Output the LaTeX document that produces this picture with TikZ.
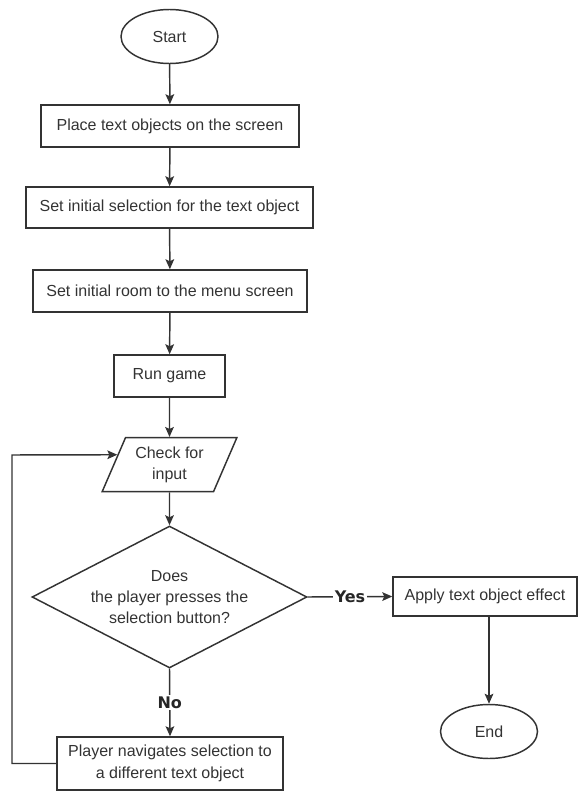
\documentclass[tikz,border=0pt]{standalone}
\usepackage{fontspec}
\setmainfont{Liberation Sans}
\newfontfamily\etiqfont{DejaVu Sans}
\usetikzlibrary{
	shapes.geometric, arrows.meta,
	calc
}
\def\px{0.75pt}

\begin{document}
\begin{tikzpicture}[
		x = \px, y = -\px,
		every node/.style = {
			font = \fontsize{12}{16}\selectfont, text = black!80,
			draw = black!80, line width = 1.1pt, align = center, inner sep = 0pt
		},
		flecha/.style = {
			draw = black!80, line width = 1.1pt,
			-{Stealth[length = 7.5pt, width = 6.5pt, inset = 1.5pt]}
		},
		terminal/.style = {ellipse, minimum width = 97*\px, minimum height = 54*\px},
		entrada/.style = {
			trapezium, trapezium stretches = true,
			trapezium left angle = 63.4, trapezium right angle = 116.6,
			minimum width = 135*\px, minimum height = 54*\px
		},
		decision/.style = {diamond, aspect = 1.94, minimum width = 275*\px, minimum height = 142*\px},
		etiqueta/.style = {
			draw = none, fill = white, inner sep = 1pt, text = black!85,
			font = \etiqfont\bfseries\fontsize{12}{14}\selectfont
		}
	]

	% márgenes del dibujo
	\useasboundingbox (0,0) rectangle (581,792);

	% columna principal
	\node[terminal] (inicio) at (169.5,36.5) {Start};
	\node[minimum width = 258*\px, minimum height = 42*\px] (colocar) at (170,126)
		{Place text objects on the screen};
	\node[minimum width = 287*\px, minimum height = 41*\px] (seleccion) at (169.5,207.5)
		{Set initial selection for the text object};
	\node[minimum width = 274*\px, minimum height = 42*\px] (sala) at (170,291)
		{Set initial room to the menu screen};
	\node[minimum width = 111*\px, minimum height = 42*\px] (juego) at (169.5,376)
		{Run game};
	\node[entrada] (leer) at (169.5,464.7) {Check for\\input};
	\node[decision] (pulsa) at (169.5,597)
		{Does\\the player presses the\\selection button?};
	\node[minimum width = 226*\px, minimum height = 53*\px] (navegar) at (170,763.5)
		{Player navigates selection to\\a different text object};

	% rama del sí
	\node[minimum width = 184*\px, minimum height = 39*\px] (aplicar) at (485,596.5)
		{Apply text object effect};
	\node[terminal] (fin) at (489,731.5) {End};

	% flechas
	\draw[flecha] (inicio) -- (colocar);
	\draw[flecha] (colocar) -- (seleccion);
	\draw[flecha] (seleccion) -- (sala);
	\draw[flecha] (sala) -- (juego);
	\draw[flecha] (juego) -- (leer);
	\draw[flecha] (leer) -- (pulsa);
	\draw[flecha] (pulsa.east) --node[etiqueta] {Yes} (aplicar.west);
	\draw[flecha] (pulsa.south) --node[etiqueta] {No} (navegar.north);
	\draw[flecha] (aplicar.south -| fin.north) -- (fin.north);

	% vuelta a la lectura
	\coordinate (esquina) at (12,455);
	\draw[flecha] (navegar.west) -| (esquina)
		-- ($(leer.bottom left corner)!0.68!(leer.top left corner)$);

\end{tikzpicture}
\end{document}
